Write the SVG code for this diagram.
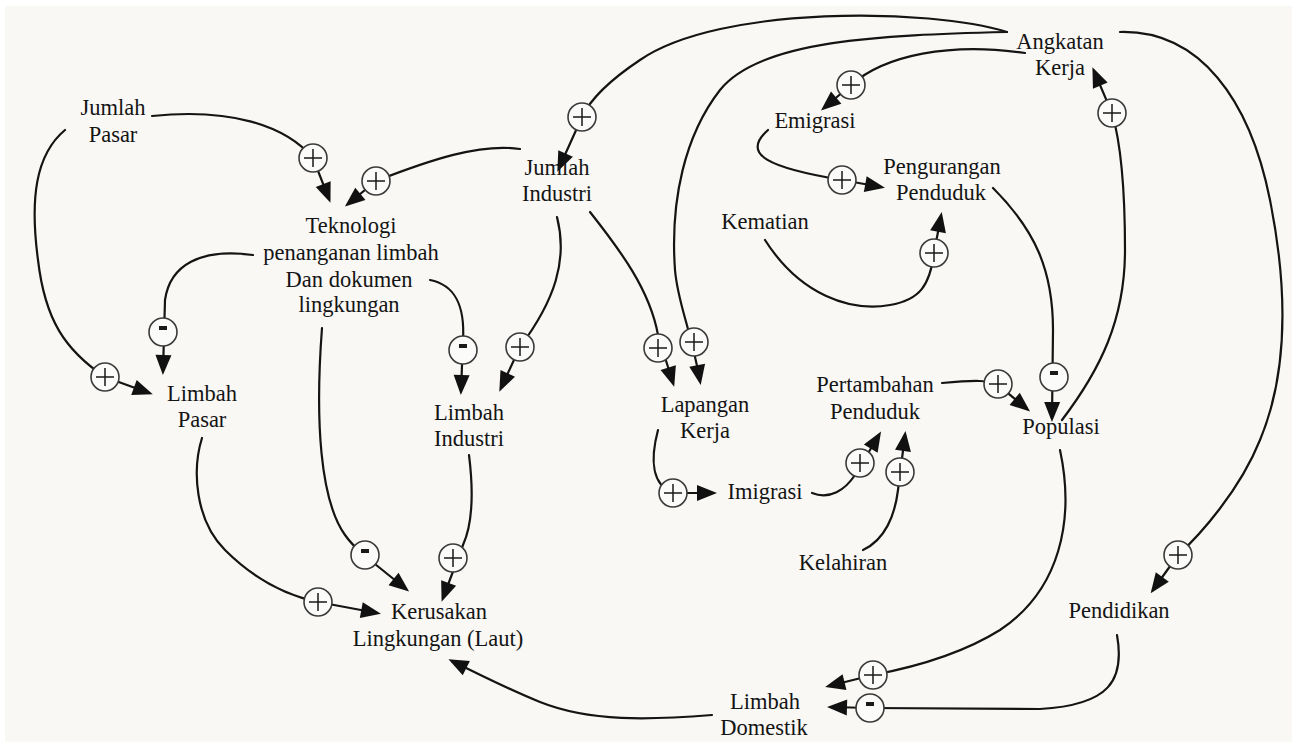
<svg xmlns="http://www.w3.org/2000/svg" width="1292" height="742" viewBox="0 0 1292 742">
<style>
.lbl{font-family:"Liberation Serif","Times New Roman",serif;font-size:22.5px;fill:#141414;text-anchor:middle}
.c{fill:none;stroke:#141414;stroke-width:2.2;stroke-linecap:round}
.pol{fill:#fbfbf9;stroke:#3a3a3a;stroke-width:1.6}
.pl{stroke:#1a1a1a;stroke-width:1.5;fill:none}
.mn{fill:#1a1a1a}
</style>
<defs>
<marker id="ah" markerUnits="userSpaceOnUse" markerWidth="22" markerHeight="18" refX="16" refY="8" orient="auto" overflow="visible">
<path d="M0,0 L20,8 L0,16 z" fill="#111"/>
</marker>
<g id="plus"><circle class="pol" r="14"/><path class="pl" d="M-9,0 H9 M0,-9 V9"/></g>
<g id="minus"><circle class="pol" r="14"/><rect class="mn" x="-4" y="-6" width="8" height="4"/></g>
</defs>
<rect x="0" y="0" width="1292" height="742" fill="#ffffff"/>
<rect x="5" y="6" width="1287" height="736" fill="#f9f8f4"/>

<g id="connectors">
<path class="c" marker-end="url(#ah)" d="M152,116 C230,108 285,125 313,158 L329,199"/>
<path class="c" marker-end="url(#ah)" d="M520,149 C480,143 430,160 376,181 L348,204"/>
<path class="c" marker-end="url(#ah)" d="M1007,32 C930,8 720,5 640,60 C610,80 590,100 582,117 L559,168"/>
<path class="c" marker-end="url(#ah)" d="M1007,32 C880,35 760,40 720,90 C685,135 670,200 675,270 C678,305 690,325 700,381"/>
<path class="c" marker-end="url(#ah)" d="M1025,53 C950,42 885,55 851,85 L824,108"/>
<path class="c" marker-end="url(#ah)" d="M768,130 C740,155 770,168 842,180 L881,187"/>
<path class="c" marker-end="url(#ah)" d="M765,240 C800,295 850,312 890,305 C920,300 930,285 934,253 L941,216"/>
<path class="c" marker-end="url(#ah)" d="M1120,32 C1200,30 1250,100 1270,200 C1290,300 1285,380 1260,440 C1240,490 1200,535 1178,555 L1153,590"/>
<path class="c" marker-end="url(#ah)" d="M1062,420 C1100,370 1125,320 1125,250 C1125,180 1120,140 1112,113 L1094,71"/>
<path class="c" marker-end="url(#ah)" d="M993,188 C1035,230 1053,270 1053,330 L1052,418"/>
<path class="c" marker-end="url(#ah)" d="M942,383 C975,380 990,380 998,385 L1027,409"/>
<path class="c" marker-end="url(#ah)" d="M1060,450 C1075,520 1060,590 1000,630 C960,655 910,668 873,675 L829,686"/>
<path class="c" marker-end="url(#ah)" d="M1117,635 C1125,680 1110,705 1040,709 L870,708 L831,707"/>
<path class="c" marker-end="url(#ah)" d="M712,715 C650,720 590,722 540,702 C510,690 480,675 452,661"/>
<path class="c" marker-end="url(#ah)" d="M202,438 C192,470 195,520 225,550 C255,580 285,595 318,602 L377,613"/>
<path class="c" marker-end="url(#ah)" d="M322,328 C315,420 320,500 345,535 C352,545 358,550 365,556 L406,589"/>
<path class="c" marker-end="url(#ah)" d="M469,455 C474,495 472,525 463,545 L443,598"/>
<path class="c" marker-end="url(#ah)" d="M253,255 C200,248 170,265 165,300 L163,371"/>
<path class="c" marker-end="url(#ah)" d="M65,130 C35,155 30,200 38,260 C45,320 65,350 105,377 L149,393"/>
<path class="c" marker-end="url(#ah)" d="M430,280 C455,285 465,305 463,340 L461,391"/>
<path class="c" marker-end="url(#ah)" d="M557,217 C568,260 555,300 520,347 L501,388"/>
<path class="c" marker-end="url(#ah)" d="M590,212 C620,250 650,290 658,335 L673,383"/>
<path class="c" marker-end="url(#ah)" d="M658,430 C650,460 652,485 673,493 L713,493"/>
<path class="c" marker-end="url(#ah)" d="M812,493 C830,500 845,490 855,475 L879,435"/>
<path class="c" marker-end="url(#ah)" d="M863,550 C885,540 895,515 898,490 L905,435"/>

<use href="#plus" x="313" y="158"/>
<use href="#plus" x="376" y="181"/>
<use href="#plus" x="582" y="117"/>
<use href="#plus" x="694" y="342"/>
<use href="#plus" x="851" y="85"/>
<use href="#plus" x="842" y="180"/>
<use href="#plus" x="934" y="253"/>
<use href="#plus" x="1178" y="555"/>
<use href="#plus" x="1112" y="113"/>
<use href="#minus" x="1054" y="377"/>
<use href="#plus" x="998" y="384"/>
<use href="#plus" x="873" y="675"/>
<use href="#minus" x="870" y="708"/>
<use href="#plus" x="318" y="602"/>
<use href="#minus" x="365" y="555"/>
<use href="#plus" x="453" y="558"/>
<use href="#minus" x="163" y="332"/>
<use href="#plus" x="105" y="377"/>
<use href="#minus" x="463" y="350"/>
<use href="#plus" x="520" y="347"/>
<use href="#plus" x="658" y="348"/>
<use href="#plus" x="673" y="493"/>
<use href="#plus" x="860" y="463"/>
<use href="#plus" x="900" y="472"/>
</g>

<g id="jumlah-pasar"><text class="lbl" x="113" y="115">Jumlah</text><text class="lbl" x="113" y="142">Pasar</text></g>
<g id="teknologi"><text class="lbl" x="351" y="233">Teknologi</text><text class="lbl" x="351" y="260">penanganan limbah</text><text class="lbl" x="349" y="287">Dan dokumen</text><text class="lbl" x="349" y="312">lingkungan</text></g>
<g id="jumlah-industri"><text class="lbl" x="557" y="175">Jumlah</text><text class="lbl" x="557" y="201">Industri</text></g>
<g id="emigrasi"><text class="lbl" x="815" y="128">Emigrasi</text></g>
<g id="kematian"><text class="lbl" x="765" y="229">Kematian</text></g>
<g id="angkatan-kerja"><text class="lbl" x="1060" y="49">Angkatan</text><text class="lbl" x="1060" y="75">Kerja</text></g>
<g id="pengurangan-penduduk"><text class="lbl" x="942" y="174">Pengurangan</text><text class="lbl" x="941" y="200">Penduduk</text></g>
<g id="limbah-pasar"><text class="lbl" x="202" y="401">Limbah</text><text class="lbl" x="202" y="427">Pasar</text></g>
<g id="limbah-industri"><text class="lbl" x="469" y="420">Limbah</text><text class="lbl" x="469" y="446">Industri</text></g>
<g id="lapangan-kerja"><text class="lbl" x="705" y="412">Lapangan</text><text class="lbl" x="705" y="438">Kerja</text></g>
<g id="imigrasi"><text class="lbl" x="765" y="499">Imigrasi</text></g>
<g id="pertambahan-penduduk"><text class="lbl" x="875" y="392">Pertambahan</text><text class="lbl" x="875" y="419">Penduduk</text></g>
<g id="populasi"><text class="lbl" x="1061" y="434">Populasi</text></g>
<g id="kelahiran"><text class="lbl" x="843" y="570">Kelahiran</text></g>
<g id="kerusakan"><text class="lbl" x="439" y="619">Kerusakan</text><text class="lbl" x="438" y="646">Lingkungan (Laut)</text></g>
<g id="limbah-domestik"><text class="lbl" x="765" y="709">Limbah</text><text class="lbl" x="764" y="735">Domestik</text></g>
<g id="pendidikan"><text class="lbl" x="1119" y="618">Pendidikan</text></g>
</svg>
